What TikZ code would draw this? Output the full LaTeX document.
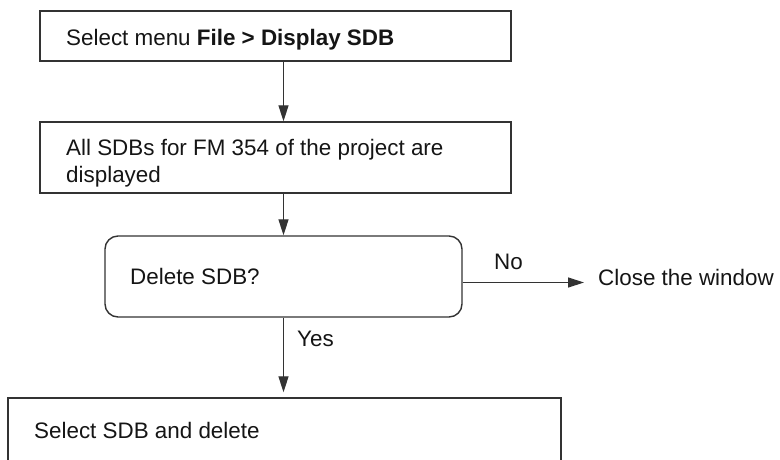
\documentclass[tikz,border=0pt]{standalone}
\usepackage{fontspec}
\setmainfont{Liberation Sans}
\usetikzlibrary{arrows.meta,calc}
\definecolor{linegray}{HTML}{333333}
\definecolor{textblack}{HTML}{151515}
\begin{document}
\begin{tikzpicture}[x=1pt,y=-1pt,
  box/.style={draw=linegray,line width=1.4pt,rectangle,inner sep=0pt,fill=white},
  roundbox/.style={box,rounded corners=13pt},
  txt/.style={anchor=base west,inner sep=0pt,text=textblack,font=\fontsize{22.4}{27}\selectfont},
  arr/.style={draw=linegray,line width=1.3pt,-{Triangle[length=16pt,width=10pt]}}]
\clip (0,0) rectangle (780,459);
\fill[white] (0,0) rectangle (780,459);
% boxes
\node[box,minimum width=471pt,minimum height=50pt] (b1) at (275.5,36) {};
\node[box,minimum width=471pt,minimum height=71pt] (b2) at (275.5,157.5) {};
\node[roundbox,minimum width=357pt,minimum height=81pt] (b3) at (283.5,276.5) {};
\node[box,minimum width=553pt,minimum height=82pt] (b4) at (284.5,439) {};
% texts
\node[txt] (t1) at (66,45) {Select menu \textbf{File > Display SDB}};
\node[txt] (t2) at (66,155) {\begin{tabular}[t]{@{}l@{}}All SDBs for FM 354 of the project are\\displayed\end{tabular}};
\node[txt] (t3) at (130,284) {Delete SDB?};
\node[txt] (no) at (494,269) {No};
\node[txt] (close) at (598,285) {Close the window};
\node[txt] (yes) at (297,346) {Yes};
\node[txt] (t4) at (34,438) {Select SDB and delete};
% connectors
\coordinate (noend) at (584,282.5);
\draw[arr] (b3.north |- b1.south) -- (b3.north |- b2.north);
\draw[arr] (b3.north |- b2.south) -- (b3.north);
\draw[arr] (b3.east |- noend) -- (noend);
\draw[arr,shorten >=5pt] (b3.south) -- (b3.south |- b4.north);
\end{tikzpicture}
\end{document}
